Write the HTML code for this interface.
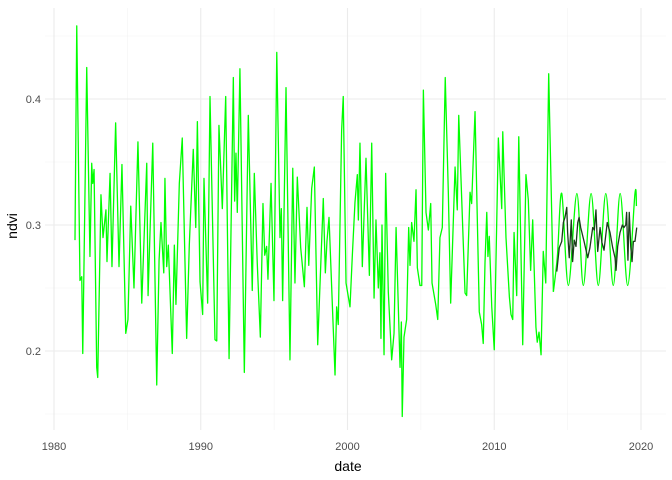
<!DOCTYPE html>
<html><head><meta charset="utf-8"><style>
body{margin:0;background:#fff;}
svg{display:block;font-family:"Liberation Sans",sans-serif;}
</style></head><body>
<svg id="chart" width="672" height="480">
<g id="grid"></g>
<g id="axes"></g>
<g id="series"></g>
<text x="348" y="471" text-anchor="middle" font-size="14" fill="#000">date</text>
<text transform="translate(17,226) rotate(-90)" text-anchor="middle" font-size="14" fill="#000">ndvi</text>
</svg>
<script>
const xTicks = [1980, 1990, 2000, 2010, 2020];
const xMinor = [1985, 1995, 2005, 2015];
const yTicks = [0.2, 0.3, 0.4];
const yMinor = [0.15, 0.25, 0.35, 0.45];

const obsYears = [1981.43,1981.55,1981.77,1981.89,1981.96,1982.23,1982.45,1982.57,1982.64,1982.73,1982.91,1982.98,1983.20,1983.34,1983.54,1983.61,1983.82,1983.95,1984.20,1984.43,1984.63,1984.89,1985.04,1985.23,1985.45,1985.72,1985.98,1986.32,1986.41,1986.73,1987.00,1987.16,1987.29,1987.48,1987.56,1987.68,1987.79,1988.06,1988.20,1988.31,1988.54,1988.74,1989.04,1989.22,1989.49,1989.66,1989.77,1989.95,1990.13,1990.22,1990.47,1990.63,1990.97,1991.09,1991.24,1991.47,1991.70,1991.93,1992.22,1992.31,1992.40,1992.49,1992.67,1992.97,1993.24,1993.51,1993.65,1993.85,1994.06,1994.24,1994.36,1994.49,1994.58,1994.79,1994.99,1995.18,1995.40,1995.49,1995.58,1995.81,1996.08,1996.27,1996.42,1996.58,1996.81,1997.06,1997.24,1997.36,1997.56,1997.74,1997.97,1998.35,1998.49,1998.60,1998.74,1999.15,1999.26,1999.37,1999.60,1999.71,1999.90,2000.17,2000.33,2000.51,2000.67,2000.74,2000.85,2001.01,2001.26,2001.49,2001.65,2001.81,2001.94,2002.10,2002.21,2002.28,2002.35,2002.49,2002.60,2002.78,2003.01,2003.17,2003.31,2003.58,2003.67,2003.73,2003.85,2004.03,2004.17,2004.26,2004.37,2004.53,2004.67,2004.76,2004.94,2005.06,2005.17,2005.35,2005.51,2005.67,2005.76,2006.01,2006.15,2006.30,2006.46,2006.66,2006.87,2007.03,2007.33,2007.48,2007.58,2008.01,2008.12,2008.35,2008.46,2008.69,2008.98,2009.14,2009.25,2009.37,2009.49,2009.57,2009.66,2009.83,2010.00,2010.28,2010.51,2010.58,2010.80,2011.03,2011.14,2011.26,2011.35,2011.53,2011.67,2011.94,2012.16,2012.32,2012.48,2012.62,2012.84,2012.93,2013.05,2013.19,2013.34,2013.51,2013.71,2014.03];
const obsValues = [0.288,0.458,0.256,0.259,0.198,0.425,0.275,0.349,0.333,0.344,0.187,0.179,0.324,0.290,0.312,0.271,0.341,0.267,0.381,0.267,0.348,0.214,0.225,0.315,0.250,0.366,0.238,0.349,0.244,0.365,0.173,0.272,0.302,0.262,0.337,0.267,0.284,0.198,0.284,0.237,0.333,0.369,0.210,0.284,0.360,0.298,0.382,0.255,0.229,0.337,0.238,0.402,0.209,0.208,0.379,0.313,0.402,0.194,0.417,0.319,0.357,0.310,0.424,0.183,0.387,0.248,0.341,0.270,0.211,0.317,0.276,0.283,0.257,0.333,0.240,0.437,0.290,0.313,0.240,0.409,0.193,0.345,0.254,0.338,0.282,0.251,0.314,0.268,0.329,0.346,0.205,0.321,0.262,0.287,0.306,0.181,0.235,0.221,0.375,0.402,0.254,0.235,0.276,0.318,0.340,0.304,0.365,0.267,0.353,0.260,0.365,0.242,0.304,0.250,0.278,0.210,0.300,0.197,0.341,0.247,0.193,0.214,0.298,0.187,0.223,0.148,0.211,0.225,0.298,0.268,0.302,0.287,0.328,0.266,0.252,0.252,0.407,0.310,0.296,0.317,0.254,0.237,0.225,0.290,0.298,0.417,0.326,0.238,0.346,0.312,0.387,0.246,0.244,0.326,0.317,0.390,0.231,0.221,0.206,0.270,0.310,0.275,0.291,0.235,0.201,0.369,0.313,0.374,0.290,0.243,0.229,0.225,0.294,0.244,0.370,0.205,0.340,0.320,0.264,0.304,0.219,0.207,0.215,0.197,0.279,0.254,0.420,0.247];

const seasYears = [2014.03,2014.30,2014.60,2015.05,2015.63,2016.07,2016.60,2017.09,2017.60,2018.11,2018.58,2019.09,2019.59,2019.69];
const seasValues = [0.247,0.275,0.325,0.252,0.325,0.252,0.325,0.252,0.325,0.252,0.325,0.252,0.325,0.315];

const fcYears = [2014.26,2014.43,2014.60,2014.71,2014.82,2014.94,2015.00,2015.11,2015.25,2015.34,2015.45,2015.57,2015.69,2015.78,2015.89,2016.12,2016.37,2016.52,2016.71,2016.82,2016.93,2017.05,2017.21,2017.34,2017.48,2017.70,2017.89,2018.07,2018.23,2018.30,2018.41,2018.57,2018.73,2018.84,2018.96,2019.02,2019.11,2019.20,2019.30,2019.39,2019.48,2019.59,2019.71];
const fcValues = [0.263,0.282,0.287,0.302,0.306,0.314,0.294,0.274,0.304,0.271,0.288,0.283,0.302,0.306,0.298,0.287,0.274,0.282,0.298,0.296,0.312,0.279,0.298,0.286,0.280,0.302,0.294,0.282,0.274,0.264,0.283,0.294,0.300,0.298,0.300,0.310,0.272,0.310,0.283,0.271,0.287,0.287,0.298];

const NS = "http://www.w3.org/2000/svg";
const X0 = 45, X1 = 666, Y0 = 8, Y1 = 430;
function xs(t){ return 54 + (t - 1980) * 14.675; }
function ys(v){ return 225 - (v - 0.3) * 1260; }
function mk(tag, attrs, parent){
  const e = document.createElementNS(NS, tag);
  for (const k in attrs) e.setAttribute(k, attrs[k]);
  parent.appendChild(e); return e;
}
const grid = document.getElementById('grid');
const axes = document.getElementById('axes');
const series = document.getElementById('series');

yMinor.forEach(v => {
  const l = mk('line', {x1:X0, x2:X1, y1:ys(v), y2:ys(v), stroke:'#f3f3f3', 'stroke-width':0.6}, grid);
  
  
});
xMinor.forEach(t => {
  const l = mk('line', {x1:xs(t), x2:xs(t), y1:Y0, y2:Y1, stroke:'#f3f3f3', 'stroke-width':0.6}, grid);
  
  
});
yTicks.forEach(v => {
  const l = mk('line', {x1:X0, x2:X1, y1:ys(v), y2:ys(v), stroke:'#ebebeb', 'stroke-width':1.1}, grid);
  
  
  const t = mk('text', {x:41, y:ys(v)+4, 'text-anchor':'end', 'font-size':11, fill:'#4d4d4d'}, axes);
  t.textContent = v.toFixed(1);
  
  
});
xTicks.forEach(yr => {
  const l = mk('line', {x1:xs(yr), x2:xs(yr), y1:Y0, y2:Y1, stroke:'#ebebeb', 'stroke-width':1.1}, grid);
  
  
  const t = mk('text', {x:xs(yr), y:450, 'text-anchor':'middle', 'font-size':11, fill:'#4d4d4d'}, axes);
  t.textContent = yr;
  
  
});

function linePath(ys_, vs_){
  return ys_.map((t,i)=> (i?'L':'M') + xs(t).toFixed(2) + ',' + ys(vs_[i]).toFixed(2)).join(' ');
}
function smoothPath(ys_, vs_){
  const p = ys_.map((t,i)=>[xs(t), ys(vs_[i])]);
  let d = 'M' + p[0][0] + ',' + p[0][1];
  for (let i=0;i<p.length-1;i++){
    const a=p[Math.max(i-1,0)], b=p[i], c=p[i+1], e=p[Math.min(i+2,p.length-1)];
    const c1=[b[0]+(c[0]-a[0])/6, b[1]+(c[1]-a[1])/6];
    const c2=[c[0]-(e[0]-b[0])/6, c[1]-(e[1]-b[1])/6];
    d += ' C'+c1[0]+','+c1[1]+' '+c2[0]+','+c2[1]+' '+c[0]+','+c[1];
  }
  return d;
}
const obs = mk('path', {d:linePath(obsYears, obsValues), fill:'none', stroke:'#00ff00', 'stroke-width':1.3, 'stroke-linejoin':'round'}, series);


const seas = mk('path', {d:smoothPath(seasYears, seasValues), fill:'none', stroke:'#00ff00', 'stroke-width':1.3}, series);


const fc = mk('path', {d:linePath(fcYears, fcValues), fill:'none', stroke:'#1a3d1a', 'stroke-width':1.3, 'stroke-linejoin':'round'}, series);


</script>
</body></html>
